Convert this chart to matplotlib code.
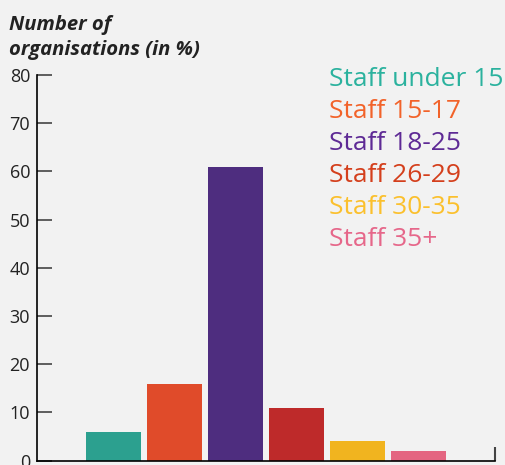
import matplotlib
matplotlib.use("Agg")
import matplotlib.pyplot as plt

# values
categories = ["Staff under 15", "Staff 15-17", "Staff 18-25", "Staff 26-29", "Staff 30-35", "Staff 35+"]
values = [6, 16, 61, 11, 4, 2]
bar_colors = ["#2ca08f", "#e04b2a", "#4e2d7f", "#be2a2a", "#f1b41f", "#e46581"]
label_colors = ["#2bb29e", "#f2632a", "#5e2a95", "#d43f1c", "#fbc02d", "#e6678a"]
yticks = [0, 10, 20, 30, 40, 50, 60, 70, 80]

plt.rcParams['font.family'] = ['Open Sans', 'DejaVu Sans']

fig = plt.figure(figsize=(5.06, 4.65), dpi=100, facecolor="#f2f2f2")
ax = fig.add_axes([37 / 506, 4.3 / 465, (495 - 37) / 506, (460.7 - 75) / 465])
ax.set_facecolor("#f2f2f2")

x = list(range(len(values)))
ax.bar(x, values, width=0.9, color=bar_colors)

ax.set_xlim(-1.25, 6.25)
ax.set_ylim(0, 80)
ax.set_yticks(yticks)
ax.set_xticks([6.25])
ax.set_xticklabels([])
ax.tick_params(axis="y", direction="in", length=11, width=1.2, color="#444444",
               labelsize=13, labelcolor="#222222", pad=5)
ax.tick_params(axis="x", direction="in", length=10, width=1.5, color="#444444")
for s in ["top", "right"]:
    ax.spines[s].set_visible(False)
for s in ["left", "bottom"]:
    ax.spines[s].set_color("black")
    ax.spines[s].set_linewidth(1.2)
    ax.spines[s].set_zorder(3)

# title: two lines, baselines at ~28 and ~55 px from the top
fig.text(9 / 506, 1 - 55 / 465, "Number of\norganisations (in %)", fontsize=14.6,
         fontstyle="italic", fontweight="bold", color="#222222",
         ha="left", va="baseline", linespacing=1.33)

for i, (name, c) in enumerate(zip(categories, label_colors)):
    fig.text(329 / 506, 1 - (86 + 32 * i) / 465, name, fontsize=19, color=c,
             ha="left", va="baseline")

fig.savefig("out.png", dpi=100, facecolor=fig.get_facecolor())
